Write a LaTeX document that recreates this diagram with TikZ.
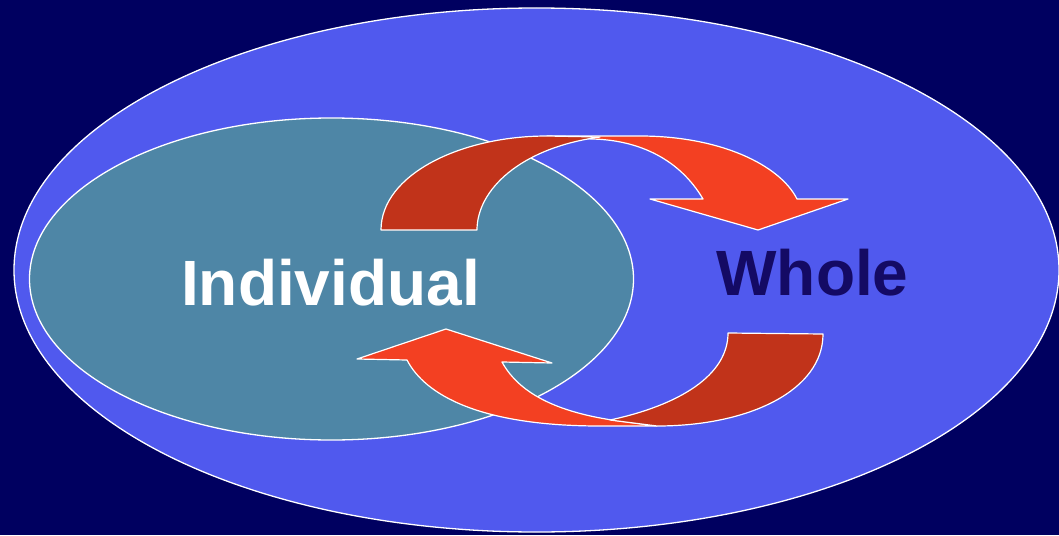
\documentclass[tikz,border=0pt]{standalone}
\usepackage{fontspec}
\setmainfont{Liberation Sans}
\usetikzlibrary{shapes.geometric}
\definecolor{bgnavy}{RGB}{0,0,96}
\definecolor{wholeblue}{RGB}{80,89,238}
\definecolor{indteal}{RGB}{78,134,166}
\definecolor{darkred}{RGB}{193,51,26}
\definecolor{lightred}{RGB}{243,64,34}
\definecolor{wholetext}{RGB}{20,10,100}
\tikzset{
  blob/.style={ellipse, draw=white, line width=1.3pt, inner sep=0pt},
  bandlight/.style={fill=lightred, draw=white, line width=1.2pt, line join=round},
  banddark/.style={fill=darkred, draw=white, line width=1.2pt, line join=round},
  label/.style={font=\bfseries\fontsize{64}{70}\selectfont, inner sep=0pt, anchor=base}
}
\begin{document}
\begin{tikzpicture}[x=1pt,y=-1pt]
\useasboundingbox (0,0) rectangle (1059,535);
\fill[bgnavy] (0,0) rectangle (1059,535);
\node[blob, fill=wholeblue, minimum width=1045pt, minimum height=524pt] (whole) at (536.5,270) {};
\node[blob, fill=indteal, minimum width=604pt, minimum height=322pt] (indiv) at (331.5,279) {};
% top arrow: light part
\path[bandlight] (547,136) -- (640,136) .. controls (720,136) and (780,165) .. (797,199)
  -- (848,199) -- (758,230) -- (650,199) -- (703,199)
  .. controls (680,160) and (640,140) .. (592,139) -- cycle;
% top arrow: dark part
\path[banddark] (381,230) .. controls (381,175) and (460,136) .. (547,136)
  -- (600,137) .. controls (520,148) and (477,190) .. (477,230) -- cycle;
% bottom arrow: light part
\path[bandlight] (657,426) -- (600,426) .. controls (480,426) and (425,395) .. (407,360)
  -- (357,359) -- (446,329) -- (552,363) -- (502,362)
  .. controls (520,395) and (560,412) .. (612,420) -- cycle;
% bottom arrow: dark part
\path[banddark] (823,334) .. controls (823,390) and (750,426) .. (657,426)
  -- (610,420) .. controls (680,405) and (728,375) .. (728,333) -- cycle;
\node[label, text=white] (tind) at (330.5,305) {Individual};
\node[label, text=wholetext] (twhole) at (812.5,295) {Whole};
\end{tikzpicture}
\end{document}
